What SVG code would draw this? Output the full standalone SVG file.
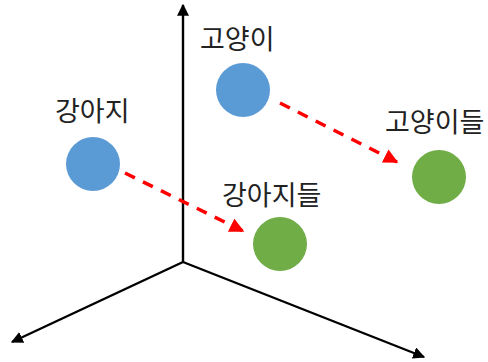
<svg xmlns="http://www.w3.org/2000/svg" width="488" height="362" viewBox="0 0 488 362">
<style>
.axis{stroke:#000;stroke-width:2.4;fill:none}
.dash{stroke:#FF0000;stroke-width:3.5;stroke-dasharray:11 9;fill:none}
.lbl{font-family:"Noto Sans CJK KR","Noto Sans",sans-serif;font-size:27px;fill:#222}
.blue{fill:#5B9BD5}
.green{fill:#70AD47}
</style>
<defs>
<marker id="ab" viewBox="0 0 10 10" refX="9" refY="5" markerWidth="5" markerHeight="5" orient="auto" markerUnits="strokeWidth"><path d="M0,0 L10,5 L0,10 z" fill="#000"/></marker>
<marker id="ar" viewBox="0 0 10 10" refX="9" refY="5" markerWidth="4.2" markerHeight="4.2" orient="auto" markerUnits="strokeWidth"><path d="M0,0 L10,5 L0,10 z" fill="#FF0000"/></marker>
</defs>
<rect width="488" height="362" fill="#fff"/>
<g id="axes">
<line class="axis" x1="183" y1="262" x2="183" y2="5" marker-end="url(#ab)"/>
<line class="axis" x1="183" y1="262" x2="12" y2="342" marker-end="url(#ab)"/>
<line class="axis" x1="183" y1="262" x2="424" y2="357" marker-end="url(#ab)"/>
</g>
<g id="connectors">
<line class="dash" x1="280" y1="103" x2="397" y2="162" marker-end="url(#ar)"/>
<line class="dash" x1="125" y1="173" x2="243" y2="231" marker-end="url(#ar)"/>
</g>
<g id="cat"><circle class="blue" cx="243" cy="90" r="27"/><text class="lbl" x="200" y="49">고양이</text></g>
<g id="dog"><circle class="blue" cx="93" cy="164" r="27"/><text class="lbl" x="55" y="121">강아지</text></g>
<g id="cats"><circle class="green" cx="439" cy="177" r="27"/><text class="lbl" x="385" y="132">고양이들</text></g>
<g id="dogs"><circle class="green" cx="280" cy="244" r="27"/><text class="lbl" x="222" y="205">강아지들</text></g>
</svg>
